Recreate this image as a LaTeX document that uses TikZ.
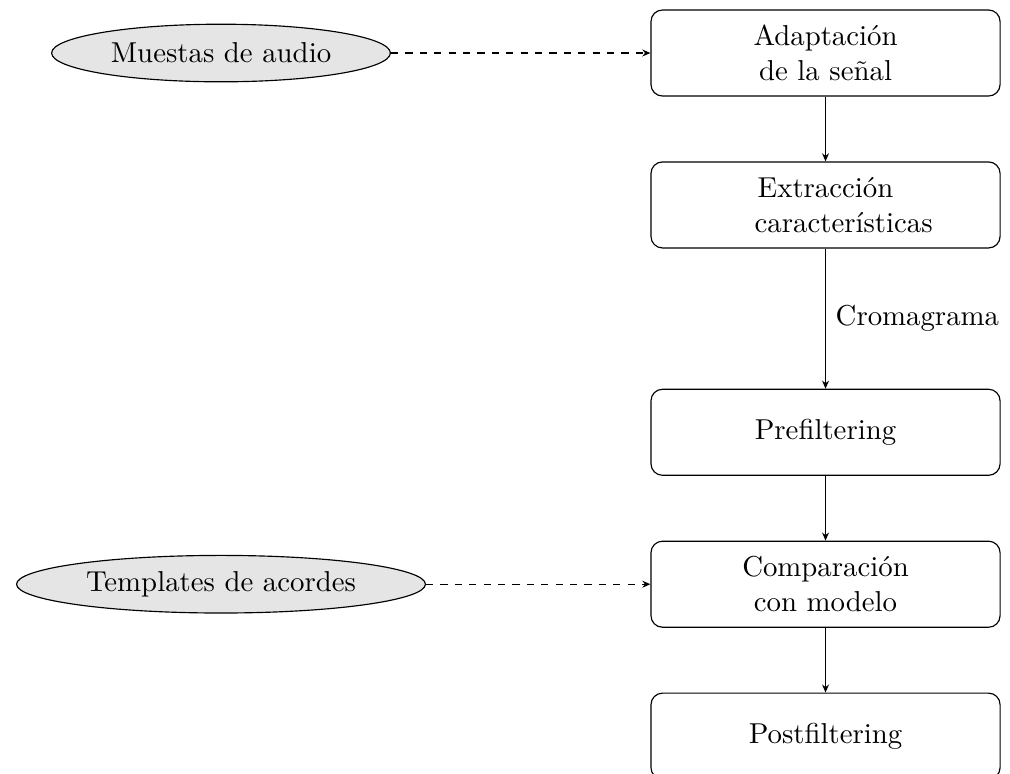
\documentclass[tikz,border=0pt]{standalone}
\usepackage{fontspec}
\usetikzlibrary{arrows.meta, positioning, shapes.geometric}

\begin{document}
\begin{tikzpicture}[
    node distance=0.79cm,
    stage/.style={rectangle, draw, rounded corners=4pt, minimum width=4.26cm, minimum height=1.05cm, align=center},
    source/.style={ellipse, draw, fill=gray!20, inner ysep=0pt, minimum height=20pt},
    flow/.style={-{Stealth[length=2.8pt, width=2.4pt]}},
    feed/.style={flow, dash pattern=on 2.5pt off 2.5pt}
  ]
  \useasboundingbox (-10.074,0.647) rectangle (2.251,-8.798);

  % Processing chain
  \node[stage] (adapt) {Adaptación\\de la señal};
  \node[stage, below=of adapt] (extract) {Extracción\\\hspace*{12.6pt}características};
  \node[stage, below=1.71cm of extract] (prefilt) {Prefiltering};
  \node[stage, below=of prefilt] (compare) {Comparación\\con modelo};
  \node[stage, below=of compare] (postfilt) {Postfiltering};

  % Inputs
  \node[source, on grid, left=7.377cm of adapt] (audio) {Muestas de audio};
  \node[source, on grid, left=7.377cm of compare] (chords) {Templates de acordes};

  % Connections
  \draw[feed] (audio) -- (adapt);
  \draw[feed] (chords) -- (compare);
  \draw[flow] (adapt) -- (extract);
  \draw[flow] (extract) -- node[right] {Cromagrama} (prefilt);
  \draw[flow] (prefilt) -- (compare);
  \draw[flow] (compare) -- (postfilt);
\end{tikzpicture}
\end{document}
